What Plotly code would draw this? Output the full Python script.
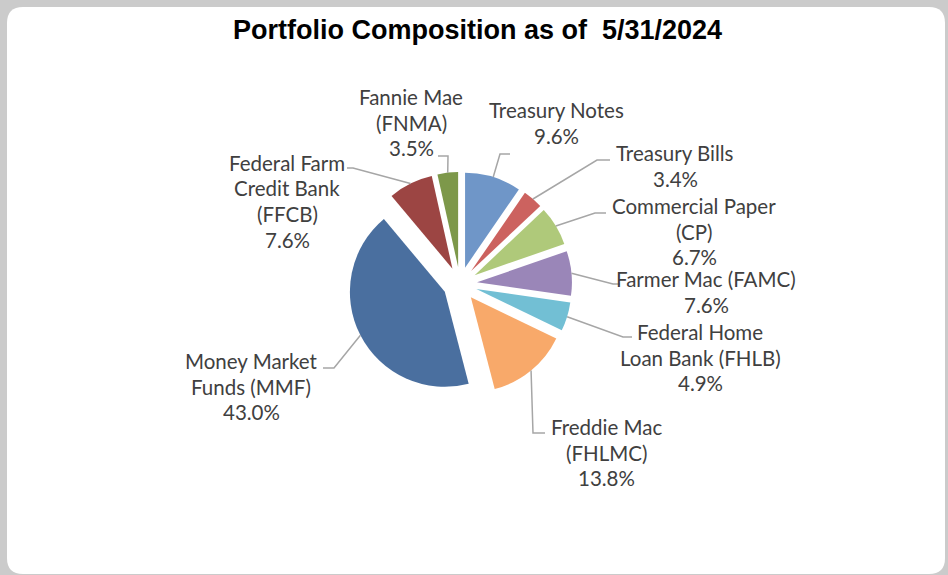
import math
import plotly.graph_objects as go

# ---- data ----
categories = ["Treasury Notes", "Treasury Bills", "Commercial Paper (CP)", "Farmer Mac (FAMC)",
              "Federal Home Loan Bank (FHLB)", "Freddie Mac (FHLMC)", "Money Market Funds (MMF)",
              "Federal Farm Credit Bank (FFCB)", "Fannie Mae (FNMA)"]
values = [9.6, 3.4, 6.7, 7.6, 4.9, 13.8, 43.0, 7.6, 3.5]
label_lines = [["Treasury Notes"], ["Treasury Bills"], ["Commercial Paper", "(CP)"],
               ["Farmer Mac (FAMC)"], ["Federal Home", "Loan Bank (FHLB)"],
               ["Freddie Mac", "(FHLMC)"], ["Money Market", "Funds (MMF)"],
               ["Federal Farm", "Credit Bank", "(FFCB)"], ["Fannie Mae", "(FNMA)"]]
title_text = "Portfolio Composition as of \u00a05/31/2024"

# ---- styling / layout ----
W, H = 948, 575
colors = ["#6f96c8", "#cc625f", "#afc97a", "#9a86b8", "#72bfd4", "#f8a96a", "#4a6f9f", "#9c4543", "#7d984a"]
PULL = 0.18
CX, CY, HALF = 460, 284, 112          # pie centre and half-size of domain (px)
R = HALF / (1 + PULL)                  # pie radius in px
LINE_H = 25.5
LABEL_FONT = dict(family="Lato, Open Sans, sans-serif", size=20.5, color="#404040")

# label placement (px): centre of first text line, elbow, end of leader
label_pos = [(556, 110), (675, 153), (694, 206), (706, 279), (700, 332),
             (606, 427), (251, 361), (287, 163), (411, 97)]
elbows = [(500, 154), (597, 160), (595, 213), (613, 284), (623, 337),
          (533, 433), (334, 368), (353, 168), (448, 156)]
ends = [(510, 154), (610, 160), (606, 213), (620, 284), (632, 337),
        (545, 433), (323, 368), (347, 168), (438, 156)]


def px(x):
    return x / W


def py(y):
    return 1 - y / H


fig = go.Figure()
fig.add_trace(go.Pie(
    labels=categories, values=values, sort=False, direction="clockwise", rotation=0,
    pull=[PULL] * len(values), textinfo="none", hoverinfo="label+percent",
    marker=dict(colors=colors, line=dict(color="white", width=0)),
    domain=dict(x=[px(CX - HALF), px(CX + HALF)], y=[py(CY + HALF), py(CY - HALF)]),
    showlegend=False,
))

shapes = []
# rounded white card
x0, y0, x1, y1, rr = 7, 7, 945, 574, 16
path = (f"M {px(x0+rr)},{py(y0)} L {px(x1-rr)},{py(y0)} Q {px(x1)},{py(y0)} {px(x1)},{py(y0+rr)} "
        f"L {px(x1)},{py(y1-rr)} Q {px(x1)},{py(y1)} {px(x1-rr)},{py(y1)} "
        f"L {px(x0+rr)},{py(y1)} Q {px(x0)},{py(y1)} {px(x0)},{py(y1-rr)} "
        f"L {px(x0)},{py(y0+rr)} Q {px(x0)},{py(y0)} {px(x0+rr)},{py(y0)} Z")
shapes.append(dict(type="path", xref="paper", yref="paper", path=path,
                   fillcolor="white", line=dict(width=0), layer="below"))

annotations = []
total = sum(values)
cum = 0.0
for i, v in enumerate(values):
    mid = (cum + v / 2) / total * 2 * math.pi
    cum += v
    dist = R * (1 + PULL)
    sx = CX + dist * math.sin(mid)
    sy = CY - dist * math.cos(mid)
    ex, ey = elbows[i]
    tx, ty = ends[i]
    p = f"M {px(sx)},{py(sy)} L {px(ex)},{py(ey)} L {px(tx)},{py(ty)}"
    shapes.append(dict(type="path", xref="paper", yref="paper", path=p,
                       line=dict(color="#a6a6a6", width=1.5)))
    lx, ly = label_pos[i]
    lines = label_lines[i] + [f"{v:.1f}%"]
    for k, t in enumerate(lines):
        annotations.append(dict(x=px(lx), y=py(ly + k * LINE_H), xref="paper", yref="paper", text=t,
                                showarrow=False, xanchor="center", yanchor="middle", align="center",
                                font=LABEL_FONT))

annotations.append(dict(x=px(478), y=py(30), xref="paper", yref="paper", text=f"<b>{title_text}</b>",
                        showarrow=False, xanchor="center", yanchor="middle",
                        font=dict(family="Liberation Sans Narrow, Arial Narrow, Liberation Sans, sans-serif",
                                  size=27, color="black")))

fig.update_layout(width=W, height=H, margin=dict(l=0, r=0, t=0, b=0),
                  paper_bgcolor="#cbcbcb", plot_bgcolor="#cbcbcb",
                  shapes=shapes, annotations=annotations)
fig.write_html("out.html", config={"displayModeBar": False},
               post_script="document.body.style.margin='0';document.body.style.overflow='hidden';")
